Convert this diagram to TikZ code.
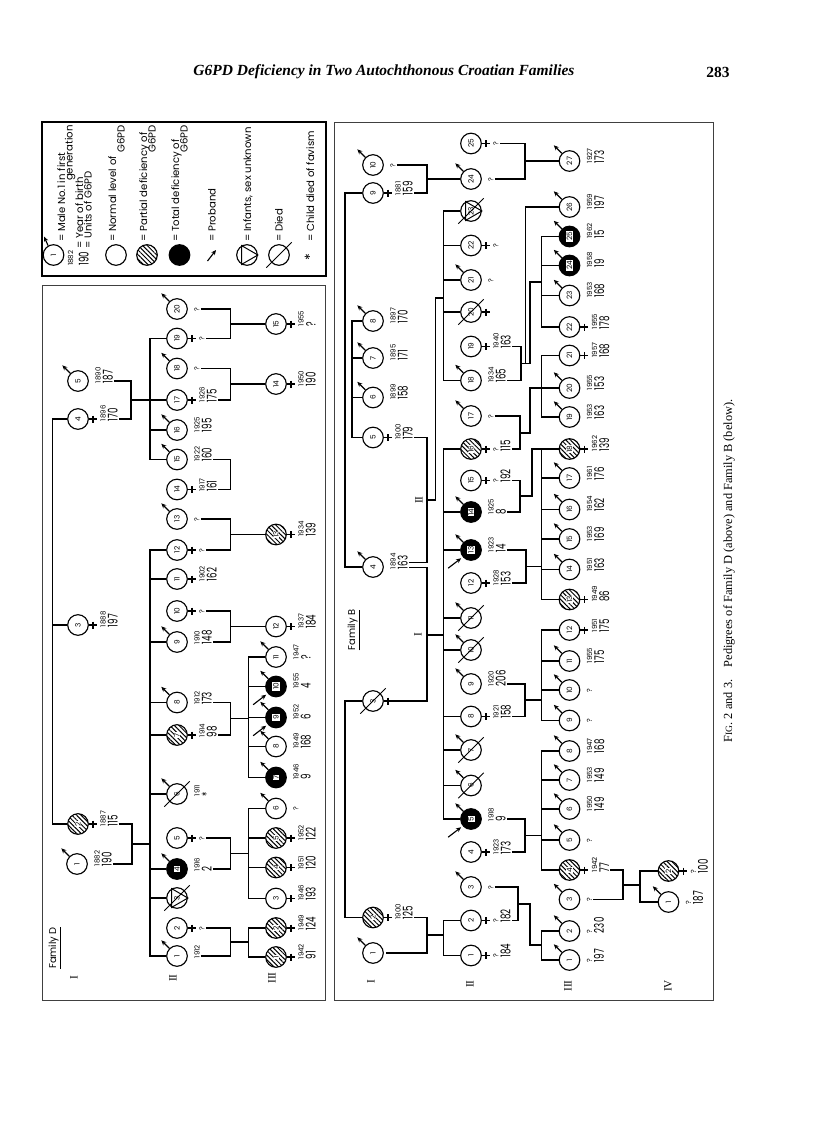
\documentclass[tikz,border=0pt]{standalone}
\usepackage{fontspec}
\setmainfont{Liberation Serif}
\newfontfamily\fig{Poppins}
\usepackage{tikz}
\usetikzlibrary{arrows.meta,patterns.meta}

% texts beside a person: year of birth, units of G6PD
\newcommand{\anio}[1]{{\fontsize{5}{5}\selectfont #1}}
\newcommand{\cant}[1]{\scalebox{0.65}[1]{\fontsize{9.5}{9.5}\selectfont #1}}

% one person: name, x, y, shading, number, sex (m/f/u), year, units
\newcommand{\pers}[8]{%
  \node[#4] (#1) at (#2,#3) {};
  \node[n#4] (#1n) at (#1) {#5};
  \ifx m#6\draw[male] (#1.135) -- ++(-8,-8);\def\dx{16}\fi
  \ifx f#6\draw[fem] (#1.east) -- ++(8,0) (#1.east) ++(4,-3.5) -- ++(0,7);\def\dx{21}\fi
  \ifx u#6\def\dx{16}\fi
  \def\tmpy{#7}\def\tmpu{#8}%
  \ifx\tmpy\empty\def\dx{10}\fi
  \ifx\tmpu\empty
    \node[datum] (t#1) at (#2+\dx,#3+3.5) {\anio{#7}};
  \else
    \node[datum] (t#1) at (#2+\dx,#3+3.5) {\anio{#7}\\\cant{#8}};
  \fi}
\newcommand{\dead}[1]{\draw[slash] ([shift={(-5,5)}]#1.225) -- ([shift={(5,-5)}]#1.45);}
\newcommand{\infant}[1]{\draw[slash] (#1.0) -- (#1.120) -- (#1.240) -- cycle;}
\newcommand{\proband}[1]{\draw[prob] ([shift={(-14,12)}]#1.215) -- ([shift={(-1,2)}]#1.215);}

\begin{document}
\begin{tikzpicture}[x=0.025cm, y=-0.025cm,
  nrm/.style={circle, draw, line width=0.8pt, minimum size=0.515cm, inner sep=0pt, fill=white},
  prt/.style={nrm, pattern={Lines[angle=-45, distance=2.3pt, line width=0.7pt]}},
  tot/.style={nrm, fill=black},
  num/.style={rotate=90, font=\fig\fontsize{5.2}{5.2}\selectfont, inner sep=0pt},
  nnrm/.style={num},
  nprt/.style={num, fill=white, inner sep=0.4pt},
  ntot/.style={num, fill=white, inner sep=0.6pt},
  conn/.style={line width=0.9pt},
  slash/.style={line width=0.7pt},
  male/.style={line width=0.8pt, -{Stealth[length=3.6pt, width=3.2pt]}},
  prob/.style={line width=0.8pt, -{Stealth[length=3.6pt, width=3.2pt]}},
  fem/.style={line width=1.1pt},
  datum/.style={rotate=90, anchor=north west, align=left, inner sep=0.8pt, font=\fig\fontsize{5}{8.5}\selectfont},
  gen/.style={rotate=90, font=\fontsize{8}{8}\selectfont},
  lgd/.style={rotate=90, font=\fig\fontsize{7.2}{7.2}\selectfont, inner sep=0pt}]
\useasboundingbox (0,0) rectangle (816,1132);

\node[font=\fontsize{11}{11}\selectfont\bfseries\itshape] (titulo) at (384,72) {G6PD Deficiency in Two Autochthonous Croatian Families};
\node[font=\fontsize{11}{11}\selectfont\bfseries] (pagina) at (718,72) {283};
\node[rotate=90, font=\fontsize{8.8}{8.8}\selectfont] (pie) at (729,571)
  {F{\fontsize{6.8}{7}\selectfont IG}. 2 and 3.\quad Pedigrees of Family D (above) and Family B (below).};

% legend
\draw[line width=1.6pt] (42,122) rectangle (326,276);
\node[nrm] (lg1) at (53.5,255) {};
\node[nnrm] (lg1n) at (lg1) {1};
\draw[male] (lg1.120) -- ++(-4,-9);
\node[lgd, anchor=base west] (lg1a) at (65,242) {= Male No.1 in first};
\node[lgd, anchor=base east] (lg1b) at (72.5,125) {generation};
\node[lgd, anchor=base west, font=\fig\fontsize{5}{5}\selectfont] (lg2a) at (73,266) {1882};
\node[lgd, anchor=base west] (lg2b) at (88.5,266) {\cant{190}};
\node[lgd, anchor=base west] (lg2c) at (83,249) {= Year of birth};
\node[lgd, anchor=base west] (lg2e) at (91.5,249) {= Units of G6PD};
\node[nrm] (lg3) at (116,255) {};
\node[lgd, anchor=base west] (lg3a) at (116,242) {= Normal level of};
\node[lgd, anchor=base east] (lg3b) at (124.5,125) {G6PD};
\node[prt] (lg4) at (147,255) {};
\node[lgd, anchor=base west] (lg4a) at (147,242) {= Partial deficiency of};
\node[lgd, anchor=base east] (lg4b) at (155.5,125) {G6PD};
\node[tot] (lg5) at (179.5,255) {};
\node[lgd, anchor=base west] (lg5a) at (179,242) {= Total deficiency of};
\node[lgd, anchor=base east] (lg5b) at (187.5,125) {G6PD};
\coordinate (lg6a) at (207.5,261);
\coordinate (lg6b) at (216,250);
\draw[prob] (lg6a) -- (lg6b);
\node[lgd, anchor=base west] (lg6) at (215.5,242) {= Proband};
\node[nrm] (lg7) at (247,255) {};
\infant{lg7}
\node[lgd, anchor=base west] (lg7a) at (251,242) {= Infants, sex unknown};
\node[nrm] (lg8) at (279,255) {};
\dead{lg8}
\node[lgd, anchor=base west] (lg8a) at (282.5,242) {= Died};
\node[lgd, font=\fig\fontsize{10}{10}\selectfont] (lg9) at (310,257) {*};
\node[lgd, anchor=base west] (lg9a) at (314,242) {= Child died of favism};

% Family D
\draw[black!75, line width=0.6pt] (42,285) rectangle (325,1000);
\node[rotate=90, font=\fig\fontsize{7}{7}\selectfont] (famD) at (55,948) {\underline{Family D}};
\node[gen] (gDI) at (74,978) {I};
\node[gen] (gDII) at (173,978) {II};
\node[gen] (gDIII) at (272,978) {III};

\pers{dI5}{78}{381}{nrm}{5}{m}{1890}{187}
\pers{dI4}{78}{419}{nrm}{4}{f}{1896}{170}
\pers{dI3}{78}{625}{nrm}{3}{f}{1888}{197}
\pers{dI2}{78}{824}{prt}{2}{f}{1887}{115}
\pers{dI1}{77}{864}{nrm}{1}{m}{1882}{190}

\pers{dII20}{177}{309}{nrm}{20}{m}{?}{}
\pers{dII19}{177}{338.5}{nrm}{19}{f}{?}{}
\pers{dII18}{177}{368.5}{nrm}{18}{m}{?}{}
\pers{dII17}{177}{400}{nrm}{17}{f}{1926}{175}
\pers{dII16}{177}{430}{nrm}{16}{m}{1925}{195}
\pers{dII15}{177}{459.5}{nrm}{15}{m}{1922}{160}
\pers{dII14}{177}{489.5}{nrm}{14}{f}{1917}{161}
\pers{dII13}{177}{519}{nrm}{13}{m}{?}{}
\pers{dII12}{177}{550}{nrm}{12}{f}{?}{}
\pers{dII11}{177}{579}{nrm}{11}{f}{1902}{162}
\pers{dII10}{177}{611}{nrm}{10}{f}{?}{}
\pers{dII9}{177}{642}{nrm}{9}{m}{1910}{148}
\pers{dII8}{177}{702.5}{nrm}{8}{m}{1912}{173}
\pers{dII7}{177}{735}{prt}{7}{f}{1914}{98}
\pers{dII6}{177}{794}{nrm}{6}{m}{1911}{*}
\dead{dII6}
\pers{dII5}{177}{838}{nrm}{5}{f}{?}{}
\pers{dII4}{177}{869}{tot}{4}{m}{1916}{2}
\pers{dII3}{177}{898}{nrm}{3}{u}{}{}
\infant{dII3}
\dead{dII3}
\pers{dII2}{177}{928}{nrm}{2}{f}{?}{}
\pers{dII1}{177}{956}{nrm}{1}{m}{1912}{}

\pers{dIII15}{276}{324}{nrm}{15}{f}{1955}{?}
\pers{dIII14}{276}{384}{nrm}{14}{f}{1950}{190}
\pers{dIII13}{276}{534.5}{prt}{13}{f}{1934}{139}
\pers{dIII12}{276}{626.5}{nrm}{12}{f}{1937}{184}
\pers{dIII11}{276}{657}{nrm}{11}{m}{1947}{?}
\pers{dIII10}{276}{686.5}{tot}{10}{m}{1955}{4}
\proband{dIII10}
\pers{dIII9}{276}{717.5}{tot}{9}{m}{1952}{6}
\proband{dIII9}
\pers{dIII8}{276}{746.5}{nrm}{8}{m}{1949}{168}
\pers{dIII7}{276}{777.5}{tot}{7}{m}{1946}{9}
\pers{dIII6}{276}{808.5}{nrm}{6}{m}{?}{}
\pers{dIII5}{276}{838}{prt}{5}{f}{1952}{122}
\pers{dIII4}{276}{867.5}{prt}{4}{f}{1951}{120}
\pers{dIII3}{276}{898.5}{nrm}{3}{f}{1946}{193}
\pers{dIII2}{276}{928}{prt}{2}{f}{1949}{124}
\pers{dIII1}{276}{957}{prt}{1}{f}{1942}{91}

% Family D, lines
\coordinate (sD0) at (52.5,0);
\draw[conn] (dI4) -| (sD0 |- dI2) -- (dI2);
\draw[conn] (dI3) -- (dI3 -| sD0);
\coordinate (cD1) at (131,400);
\draw[conn] (tdI5.south |- dI5) -| (cD1) |- (tdI4.south |- dI4);
\coordinate (cD2) at (132,844);
\draw[conn] (tdI2.south |- dI2) -| (cD2) |- (tdI1.south |- dI1);
\coordinate (sD1) at (150,0);
\draw[conn] (cD1) -- (cD1 -| sD1);
\draw[conn] (cD2) -- (cD2 -| sD1);
\draw[conn] (dII19) -| (sD1 |- dII15) -- (dII15);
\draw[conn] (dII17) -- (dII17 -| sD1) (dII16) -- (dII16 -| sD1);
\draw[conn] (dII12) -| (sD1 |- dII1) -- (dII1);
\draw[conn] (dII11) -- (dII11 -| sD1) (dII9) -- (dII9 -| sD1) (dII8) -- (dII8 -| sD1)
  (dII7) -- (dII7 -| sD1) (dII6) -- (dII6 -| sD1) (dII4) -- (dII4 -| sD1) (dII3) -- (dII3 -| sD1);
\coordinate (cD3) at (230.5,324);
\draw[conn] (tdII20.south |- dII20) -| (cD3) |- (tdII19.south |- dII19);
\draw[conn] (cD3) -- (dIII15);
\coordinate (cD4) at (230.5,384);
\draw[conn] (tdII18.south |- dII18) -| (cD4) |- (tdII17.south |- dII17);
\draw[conn] (cD4) -- (dIII14);
\coordinate (cD5) at (230.5,474.5);
\draw[conn] (tdII15.south |- dII15) -| (cD5) |- (tdII14.south |- dII14);
\coordinate (cD6) at (230.5,534.5);
\draw[conn] (tdII13.south |- dII13) -| (cD6) |- (tdII12.south |- dII12);
\draw[conn] (cD6) -- (dIII13);
\coordinate (cD7) at (230.5,626.5);
\draw[conn] (tdII10.south |- dII10) -| (cD7) |- (tdII9.south |- dII9);
\draw[conn] (cD7) -- (dIII12);
\coordinate (sD2) at (248.5,0);
\coordinate (cD8) at (230.5,718.5);
\draw[conn] (tdII8.south |- dII8) -| (cD8) |- (tdII7.south |- dII7);
\draw[conn] (cD8) -- (cD8 -| sD2);
\draw[conn] (dIII11) -| (sD2 |- dIII7) -- (dIII7);
\draw[conn] (dIII10) -- (dIII10 -| sD2) (dIII9) -- (dIII9 -| sD2) (dIII8) -- (dIII8 -| sD2);
\coordinate (cD9) at (230.5,853.5);
\draw[conn] (tdII5.south |- dII5) -| (cD9) |- (tdII4.south |- dII4);
\draw[conn] (cD9) -- (cD9 -| sD2);
\draw[conn] (dIII6) -| (sD2 |- dIII3) -- (dIII3);
\draw[conn] (dIII5) -- (dIII5 -| sD2) (dIII4) -- (dIII4 -| sD2);
\coordinate (cD10) at (230.5,942);
\draw[conn] (tdII2.south |- dII2) -| (cD10) |- (tdII1.south |- dII1);
\draw[conn] (cD10) -- (cD10 -| sD2);
\draw[conn] (dIII2) -| (sD2 |- dIII1) -- (dIII1);

% Family B
\draw[black!75, line width=0.6pt] (334,122) rectangle (713,1000);
\node[rotate=90, font=\fig\fontsize{7}{7}\selectfont] (famB) at (354,630) {\underline{Family B}};
\node[gen] (gBI) at (371,982) {I};
\node[gen] (gBII) at (470,984) {II};
\node[gen] (gBIII) at (568,986) {III};
\node[gen] (gBIV) at (668,986) {IV};
\node[gen] (mBII) at (419,500) {II};
\node[gen] (mBI) at (418,635) {I};

\pers{bI10}{373}{165}{nrm}{10}{m}{?}{}
\pers{bI9}{373}{193}{nrm}{9}{f}{1881}{159}
\pers{bI8}{373}{321}{nrm}{8}{m}{1897}{170}
\pers{bI7}{373}{358}{nrm}{7}{m}{1895}{171}
\pers{bI6}{373}{397.5}{nrm}{6}{m}{1899}{158}
\pers{bI5}{373}{437.5}{nrm}{5}{f}{1900}{179}
\pers{bI4}{373}{567}{nrm}{4}{m}{1894}{163}
\pers{bI3}{373}{701}{nrm}{3}{f}{}{}
\dead{bI3}
\pers{bI2}{373}{917.5}{prt}{2}{f}{1900}{125}
\pers{bI1}{373}{953}{nrm}{1}{m}{}{}

\pers{bII25}{471}{143.5}{nrm}{25}{f}{?}{}
\pers{bII24}{471}{179}{nrm}{24}{m}{?}{}
\pers{bII23}{471}{211}{nrm}{23}{u}{}{}
\infant{bII23}
\dead{bII23}
\pers{bII22}{471}{245.5}{nrm}{22}{f}{?}{}
\pers{bII21}{471}{280}{nrm}{21}{m}{?}{}
\pers{bII20}{471}{312}{nrm}{20}{f}{}{}
\dead{bII20}
\pers{bII19}{471}{346.5}{nrm}{19}{f}{1940}{163}
\pers{bII18}{471}{380.5}{nrm}{18}{m}{1934}{165}
\pers{bII17}{471}{416}{nrm}{17}{m}{?}{}
\pers{bII16}{471}{449}{prt}{16}{f}{?}{115}
\pers{bII15}{471}{480.5}{nrm}{15}{f}{?}{192}
\pers{bII14}{471}{512}{tot}{14}{m}{1925}{8}
\pers{bII13}{471}{550}{tot}{13}{m}{1923}{14}
\proband{bII13}
\pers{bII12}{471}{583}{nrm}{12}{f}{1928}{153}
\pers{bII11}{471}{618}{nrm}{11}{m}{}{}
\dead{bII11}
\pers{bII10}{471}{650}{nrm}{10}{m}{}{}
\dead{bII10}
\pers{bII9}{471}{684}{nrm}{9}{m}{1920}{206}
\pers{bII8}{471}{716.5}{nrm}{8}{f}{1921}{158}
\pers{bII7}{471}{750}{nrm}{7}{m}{}{}
\dead{bII7}
\pers{bII6}{471}{785.5}{nrm}{6}{m}{}{}
\dead{bII6}
\pers{bII5}{471}{819}{tot}{5}{m}{1918}{9}
\proband{bII5}
\pers{bII4}{471}{852}{nrm}{4}{f}{1923}{173}
\pers{bII3}{471}{887}{nrm}{3}{m}{?}{}
\pers{bII2}{471}{920.5}{nrm}{2}{f}{?}{182}
\pers{bII1}{471}{955.5}{nrm}{1}{f}{?}{184}

\pers{bIII27}{569.5}{161}{nrm}{27}{m}{1927}{173}
\pers{bIII26}{569.5}{207}{nrm}{26}{m}{1959}{197}
\pers{bIII25}{569.5}{236.5}{tot}{25}{m}{1962}{15}
\pers{bIII24}{569.5}{265.5}{tot}{24}{m}{1958}{19}
\pers{bIII23}{569.5}{295.5}{nrm}{23}{m}{1953}{168}
\pers{bIII22}{569.5}{327}{nrm}{22}{f}{1955}{178}
\pers{bIII21}{569.5}{355.5}{nrm}{21}{f}{1957}{168}
\pers{bIII20}{569.5}{388}{nrm}{20}{m}{1955}{153}
\pers{bIII19}{569.5}{417}{nrm}{19}{m}{1953}{163}
\pers{bIII18}{569.5}{449}{prt}{18}{f}{1962}{139}
\pers{bIII17}{569.5}{478}{nrm}{17}{m}{1961}{176}
\pers{bIII16}{569.5}{509.5}{nrm}{16}{m}{1954}{162}
\pers{bIII15}{569.5}{539}{nrm}{15}{m}{1953}{169}
\pers{bIII14}{569.5}{569.5}{nrm}{14}{m}{1951}{163}
\pers{bIII13}{569.5}{599.5}{prt}{13}{f}{1949}{86}
\pers{bIII12}{569.5}{630}{nrm}{12}{f}{1951}{175}
\pers{bIII11}{569.5}{661}{nrm}{11}{m}{1955}{175}
\pers{bIII10}{569.5}{690}{nrm}{10}{m}{?}{}
\pers{bIII9}{569.5}{720.5}{nrm}{9}{m}{?}{}
\pers{bIII8}{569.5}{751}{nrm}{8}{m}{1947}{168}
\pers{bIII7}{569.5}{780}{nrm}{7}{m}{1953}{149}
\pers{bIII6}{569.5}{809}{nrm}{6}{m}{1950}{149}
\pers{bIII5}{569.5}{840}{nrm}{5}{m}{?}{}
\pers{bIII4}{569.5}{870}{prt}{4}{f}{1942}{77}
\pers{bIII3}{569.5}{899.5}{nrm}{3}{m}{?}{}
\pers{bIII2}{569.5}{931}{nrm}{2}{m}{?}{230}
\pers{bIII1}{569.5}{960}{nrm}{1}{m}{?}{197}

\pers{bIV2}{668.5}{871}{prt}{2}{f}{?}{100}
\pers{bIV1}{668.5}{902}{nrm}{1}{m}{?}{187}

% Family B, lines
\coordinate (sB0) at (345,0);
\draw[conn] (bI9) -| (sB0 |- bI4) -- (bI4);
\draw[conn] (bI3) -| (sB0 |- bI2) -- (bI2);
\coordinate (sB0b) at (352,0);
\draw[conn] (bI8) -| (sB0b |- bI5) -- (bI5);
\draw[conn] (bI7) -- (bI7 -| sB0b) (bI6) -- (bI6 -| sB0b);
\coordinate (cB1) at (427,179);
\draw[conn] (tbI10.south |- bI10) -| (cB1) |- (tbI9.south |- bI9);
\draw[conn] (cB1) -- (bII24);
\coordinate (sB1) at (443.5,0);
\coordinate (bI4a) at (0,562.5);
\coordinate (bI4b) at (0,567.5);
\coordinate (cB2) at (427,500);
\coordinate (jB2) at (435.5,298);
\draw[conn] (tbI5.south |- bI5) -| (cB2) |- (tbI4.south |- bI4a);
\draw[conn] (cB2) -| (jB2) -- (jB2 -| sB1);
\draw[conn] (bII23) -| (sB1 |- bII18) -- (bII18);
\draw[conn] (bII22) -- (bII22 -| sB1) (bII21) -- (bII21 -| sB1) (bII20) -- (bII20 -| sB1);
\coordinate (cB3) at (427,635);
\draw[conn] (tbI4.south |- bI4b) -| (cB3) |- (tbI3.south |- bI3);
\draw[conn] (cB3) -- (cB3 -| sB1);
\draw[conn] (bII16) -| (sB1 |- bII5) -- (bII5);
\draw[conn] (bII14) -- (bII14 -| sB1) (bII13) -- (bII13 -| sB1) (bII11) -- (bII11 -| sB1)
  (bII10) -- (bII10 -| sB1) (bII8) -- (bII8 -| sB1) (bII7) -- (bII7 -| sB1) (bII6) -- (bII6 -| sB1);
\coordinate (cB4) at (427,935);
\draw[conn] (tbI2.south |- bI2) -| (cB4) |- (tbI1.south |- bI1);
\draw[conn] (cB4) -- (cB4 -| sB1);
\draw[conn] (bII2) -| (sB1 |- bII1) -- (bII1);

\coordinate (sB2) at (541.5,0);
\coordinate (cB5) at (525,161);
\draw[conn] (tbII25.south |- bII25) -| (cB5) |- (tbII24.south |- bII24);
\draw[conn] (cB5) -- (bIII27);
\coordinate (cB6) at (521,363.5);
\coordinate (jB6) at (530,282);
\coordinate (kB6) at (525.5,207);
\draw[conn] (tbII19.south |- bII19) -| (cB6) |- (tbII18.south |- bII18);
\draw[conn] (cB6) -| (jB6) -- (jB6 -| sB2);
\draw[conn] (cB6 -| kB6) |- (bIII26);
\draw[conn] (bIII25) -| (sB2 |- bIII22) -- (bIII22);
\draw[conn] (bIII24) -- (bIII24 -| sB2) (bIII23) -- (bIII23 -| sB2);
\coordinate (cB7) at (520,433);
\coordinate (jB7) at (530,388);
\draw[conn] (tbII17.south |- bII17) -| (cB7) |- (tbII16.south |- bII16);
\draw[conn] (cB7) -| (jB7) -- (bIII20);
\draw[conn] (bIII21) -| (sB2 |- bIII19) -- (bIII19);
\coordinate (cB8) at (520,496);
\coordinate (jB8) at (532,449);
\draw[conn] (tbII15.south |- bII15) -| (cB8) |- (tbII14.south |- bII14);
\draw[conn] (cB8) -| (jB8) -- (bIII18);
\draw[conn] (bIII18) -| (sB2 |- bIII13) -- (bIII13);
\draw[conn] (bIII17) -- (bIII17 -| sB2) (bIII16) -- (bIII16 -| sB2) (bIII15) -- (bIII15 -| sB2) (bIII14) -- (bIII14 -| sB2);
\coordinate (cB9) at (526,566.5);
\draw[conn] (tbII13.south |- bII13) -| (cB9) |- (tbII12.south |- bII12);
\draw[conn] (cB9) -- (cB9 -| sB2);
\coordinate (cB10) at (525,700);
\draw[conn] (tbII9.south |- bII9) -| (cB10) |- (tbII8.south |- bII8);
\draw[conn] (cB10) -- (cB10 -| sB2);
\draw[conn] (bIII12) -| (sB2 |- bIII9) -- (bIII9);
\draw[conn] (bIII11) -- (bIII11 -| sB2) (bIII10) -- (bIII10 -| sB2);
\coordinate (cB11) at (525,835.5);
\draw[conn] (tbII5.south |- bII5) -| (cB11) |- (tbII4.south |- bII4);
\draw[conn] (cB11) -- (cB11 -| sB2);
\draw[conn] (bIII8) -| (sB2 |- bIII4) -- (bIII4);
\draw[conn] (bIII7) -- (bIII7 -| sB2) (bIII6) -- (bIII6 -| sB2) (bIII5) -- (bIII5 -| sB2);
\coordinate (cB12) at (518,904);
\coordinate (jB12) at (530,945);
\draw[conn] (tbII3.south |- bII3) -| (cB12) |- (tbII2.south |- bII2);
\draw[conn] (cB12) -| (jB12) -- (jB12 -| sB2);
\draw[conn] (bIII2) -| (sB2 |- bIII1) -- (bIII1);
\coordinate (sB3) at (640,0);
\coordinate (cB13) at (623,885);
\draw[conn] (tbIII4.south |- bIII4) -| (cB13) |- (tbIII3.south |- bIII3);
\draw[conn] (cB13) -- (cB13 -| sB3);
\draw[conn] (bIV2) -| (sB3 |- bIV1) -- (bIV1);
\end{tikzpicture}
\end{document}
